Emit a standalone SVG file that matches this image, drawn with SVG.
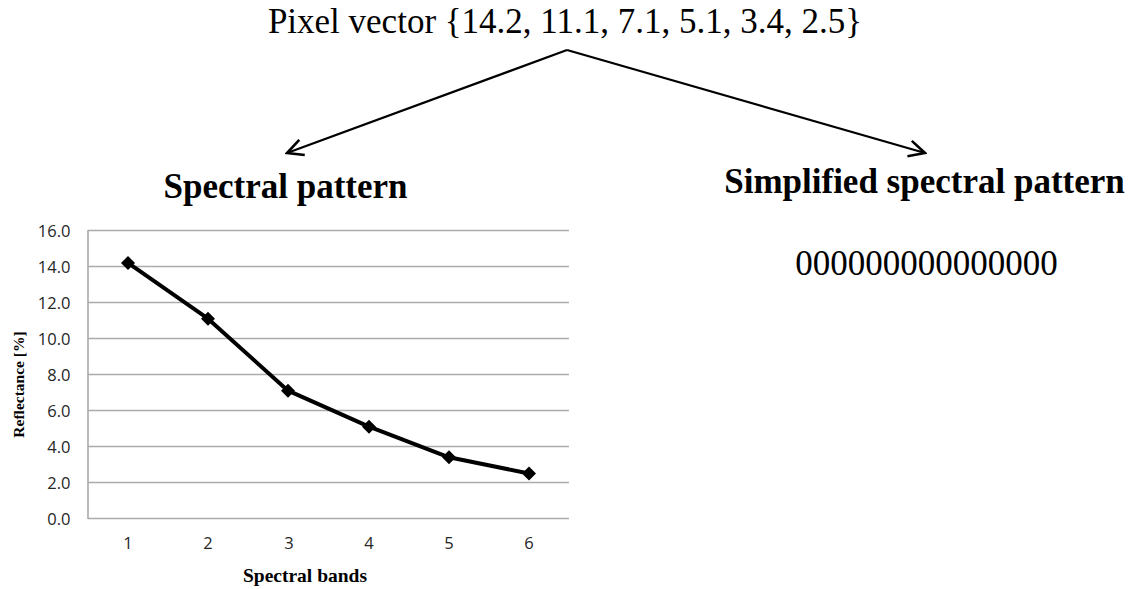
<svg xmlns="http://www.w3.org/2000/svg" width="1134" height="589" viewBox="0 0 1134 589">
<style>
.serif{font-family:"Liberation Serif","Times New Roman",serif;fill:#000}
.bold{font-weight:bold}
.tick{font-family:"Open Sans","Liberation Sans",sans-serif;font-size:16.5px;fill:#262626}
.grid{stroke:#ababab;stroke-width:1.6}
.conn{stroke:#000;stroke-width:2.2;fill:none}
.series{stroke:#000;stroke-width:4;fill:none;stroke-linejoin:round}
</style>
<defs>
<marker id="arr" viewBox="0 0 20 20" refX="18" refY="10" markerWidth="20" markerHeight="20" markerUnits="userSpaceOnUse" orient="auto">
<path d="M2,2 L18,10 L2,18" fill="none" stroke="#000" stroke-width="2.6"/>
</marker>
<path id="dia" d="M0,-7 L7,0 L0,7 L-7,0 Z" fill="#000"/>
</defs>
<rect width="1134" height="589" fill="#fff"/>
<g id="source">
<text class="serif" x="565" y="33" font-size="35" text-anchor="middle">Pixel vector {14.2, 11.1, 7.1, 5.1, 3.4, 2.5}</text>
</g>
<g id="connectors">
<line class="conn" x1="567" y1="50" x2="287" y2="153" marker-end="url(#arr)"/>
<line class="conn" x1="567" y1="50" x2="925" y2="153" marker-end="url(#arr)"/>
</g>
<g id="spectral-pattern">
<text class="serif bold" x="285.5" y="198" font-size="35" text-anchor="middle">Spectral pattern</text>
<g id="chart">
<g class="grid">
<line x1="88" y1="230.5" x2="569" y2="230.5"/>
<line x1="88" y1="266.5" x2="569" y2="266.5"/>
<line x1="88" y1="302.5" x2="569" y2="302.5"/>
<line x1="88" y1="338.5" x2="569" y2="338.5"/>
<line x1="88" y1="374.5" x2="569" y2="374.5"/>
<line x1="88" y1="410.5" x2="569" y2="410.5"/>
<line x1="88" y1="446.5" x2="569" y2="446.5"/>
<line x1="88" y1="482.5" x2="569" y2="482.5"/>
<line x1="88" y1="518.5" x2="569" y2="518.5"/>
<line x1="88" y1="230" x2="88" y2="519"/>
</g>
<g class="tick" text-anchor="end">
<text x="70.5" y="236.5">16.0</text>
<text x="70.5" y="272.5">14.0</text>
<text x="70.5" y="308.5">12.0</text>
<text x="70.5" y="344.5">10.0</text>
<text x="70.5" y="380.5">8.0</text>
<text x="70.5" y="416.5">6.0</text>
<text x="70.5" y="452.5">4.0</text>
<text x="70.5" y="488.5">2.0</text>
<text x="70.5" y="524.5">0.0</text>
</g>
<g class="tick" text-anchor="middle">
<text x="128" y="548.5">1</text>
<text x="208" y="548.5">2</text>
<text x="289" y="548.5">3</text>
<text x="369" y="548.5">4</text>
<text x="449" y="548.5">5</text>
<text x="529" y="548.5">6</text>
</g>
<polyline class="series" points="128,262.9 208,318.7 288,390.7 369,426.7 449,457.3 529,473.5"/>
<use href="#dia" x="128" y="262.9"/>
<use href="#dia" x="208" y="318.7"/>
<use href="#dia" x="288" y="390.7"/>
<use href="#dia" x="369" y="426.7"/>
<use href="#dia" x="449" y="457.3"/>
<use href="#dia" x="529" y="473.5"/>
<text class="serif bold" x="305" y="582" font-size="19.5" text-anchor="middle">Spectral bands</text>
<text class="serif bold" transform="translate(23.5,384.5) rotate(-90)" font-size="15.5" text-anchor="middle">Reflectance [%]</text>
</g>
</g>
<g id="simplified-pattern">
<text class="serif bold" x="924.5" y="193" font-size="35" text-anchor="middle">Simplified spectral pattern</text>
<text class="serif" x="926.5" y="275" font-size="35" text-anchor="middle">000000000000000</text>
</g>
</svg>
